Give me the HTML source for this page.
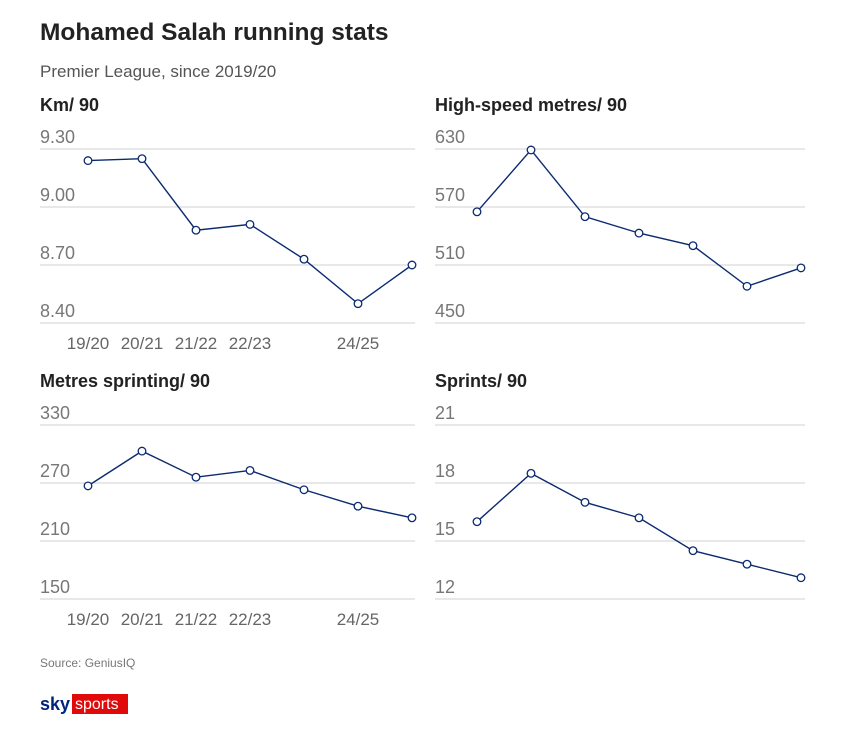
<!DOCTYPE html>
<html><head><meta charset="utf-8"><style>
html,body{margin:0;padding:0;background:#fff;width:845px;height:732px;overflow:hidden}
svg{display:block;font-family:"Liberation Sans",sans-serif}
</style></head><body>
<svg id="c" width="845" height="732">
<text x="40" y="40" font-size="24.5" font-weight="bold" fill="#222">Mohamed Salah running stats</text>
<text x="40" y="77" font-size="17" fill="#555">Premier League, since 2019/20</text>
<text x="40" y="667" font-size="12" fill="#777">Source: GeniusIQ</text>
<g>
<text x="40" y="710" font-size="18" font-weight="bold" fill="#00237a">sky</text>
<rect x="72" y="694" width="56" height="20" fill="#e10a0a"/>
<text x="75" y="709" font-size="16" fill="#fff">sports</text>
</g>
</svg>
<script>
const seasons = ["19/20","20/21","21/22","22/23","23/24","24/25","25/26"];
const xLabels = ["19/20","20/21","21/22","22/23","","24/25",""];
const kmValues = [9.24, 9.25, 8.88, 8.91, 8.73, 8.50, 8.70];
const kmTicks = [9.30, 9.00, 8.70, 8.40];
const hsValues = [565, 629, 560, 543, 530, 488, 507];
const hsTicks = [630, 570, 510, 450];
const msValues = [267, 303, 276, 283, 263, 246, 234];
const msTicks = [330, 270, 210, 150];
const spValues = [16.0, 18.5, 17.0, 16.2, 14.5, 13.8, 13.1];
const spTicks = [21, 18, 15, 12];

const svg = document.getElementById('c');
const NS = 'http://www.w3.org/2000/svg';
function mk(tag, attrs){const e=document.createElementNS(NS,tag);for(const k in attrs)e.setAttribute(k,attrs[k]);svg.appendChild(e);return e;}

function panel(name, title, left, right, top, x0, values, ticks, decimals, showX){
  const t = mk('text',{x:left,y:top-38,'font-size':18,'font-weight':'bold',fill:'#222'});
  t.textContent = title;
  
  
  const yMax = ticks[0], yMin = ticks[ticks.length-1];
  const y = v => top + (yMax - v) / (yMax - yMin) * 174;
  const step = 54;
  const x = i => x0 + i*step;
  ticks.forEach(tv=>{
    const g = mk('line',{x1:left,x2:right,y1:y(tv),y2:y(tv),stroke:'#d0d0d0','stroke-width':1});
    
    
    const l = mk('text',{x:left,y:y(tv)-6,'font-size':18,fill:'#777'});
    l.textContent = tv.toFixed(decimals);
    
    
  });
  if(showX){
    xLabels.forEach((s,i)=>{
      if(!s) return;
      const l = mk('text',{x:x(i),y:top+200,'font-size':17,fill:'#666','text-anchor':'middle'});
      l.textContent = s;
      
      
    });
  }
  const p = mk('polyline',{points:values.map((v,i)=>x(i)+','+y(v)).join(' '),fill:'none',stroke:'#0b2a6f','stroke-width':1.4});
  
  
  values.forEach((v,i)=>{
    const c = mk('circle',{cx:x(i),cy:y(v),r:3.8,fill:'#fff',stroke:'#0b2a6f','stroke-width':1.3});
    
    
  });
}
panel('km-per-90','Km/ 90',40,415,149,88,kmValues,kmTicks,2,true);
panel('high-speed-metres','High-speed metres/ 90',435,805,149,477,hsValues,hsTicks,0,false);
panel('metres-sprinting','Metres sprinting/ 90',40,415,425,88,msValues,msTicks,0,true);
panel('sprints','Sprints/ 90',435,805,425,477,spValues,spTicks,0,false);
</script>
</body></html>
